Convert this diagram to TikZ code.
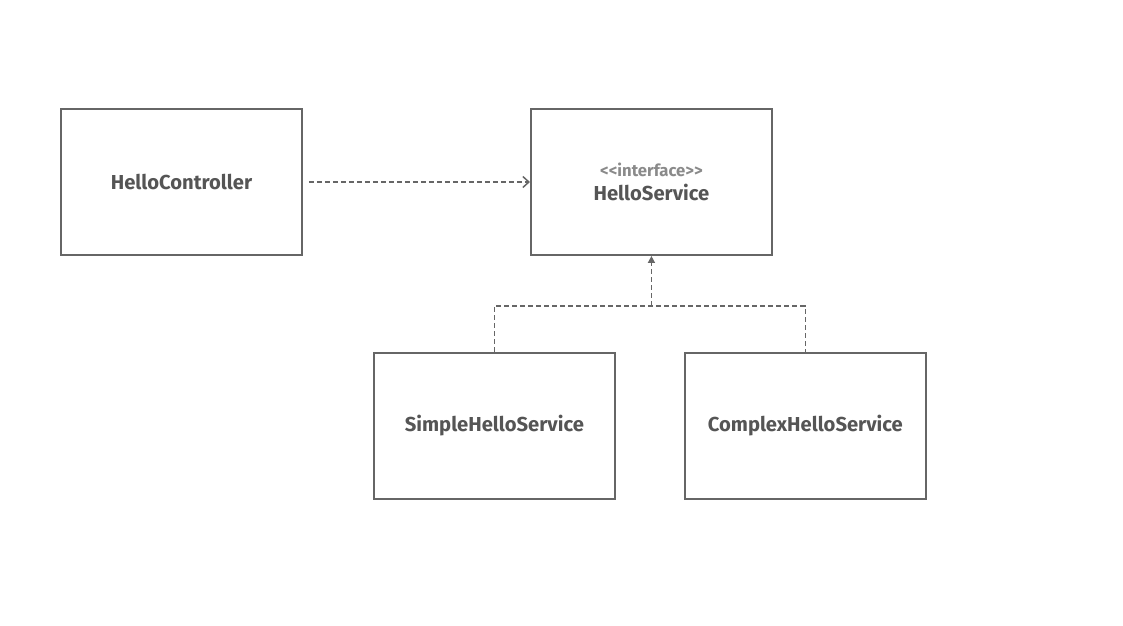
\documentclass[tikz,border=0pt]{standalone}
\usepackage{fontspec}
\setmainfont{Fira Sans}
\usetikzlibrary{arrows.meta, positioning, calc}
\definecolor{linegray}{HTML}{666666}
\definecolor{textgray}{HTML}{555555}
\definecolor{stereogray}{HTML}{8A8A8A}

\begin{document}
\begin{tikzpicture}[
        node distance=1.92cm and 4.54cm,
        box/.style={rectangle, draw=linegray, line width=1.1pt, align=center, minimum width=4.82cm, minimum height=2.92cm, text=textgray, font=\fontsize{11.5}{14}\selectfont\bfseries},
        dep/.style={draw=linegray, line width=0.85pt, dash pattern=on 0.1cm off 0.06cm}
    ]
    % Controller and interface
    \node[box] (ctrl) {HelloController};
    \node[box, right=of ctrl] (service) {{\fontsize{9.5}{11}\selectfont\color{stereogray}\textless\kern0pt\textless interface\textgreater\kern0pt\textgreater}\\HelloService};

    % Implementations
    \node[box, below=of service, xshift=-3.14cm] (simple) {SimpleHelloService};
    \node[box, right=1.36cm of simple] (complex) {ComplexHelloService};

    \useasboundingbox ($(ctrl.center)+(-3.63,3.64)$) rectangle ++(22.46,-12.5);

    % Connections
    \draw[dep, -{Straight Barb[length=0.12cm, width=0.22cm]}, shorten <=0.12cm] (ctrl.east) -- (service.west);
    \coordinate (join) at ($(service.south)+(0,-1.0)$);
    \draw[dep] (simple.north) |- (join) -| (complex.north);
    \draw[dep, -{Triangle[length=0.14cm, width=0.14cm]}] (join) -- (service.south);
\end{tikzpicture}
\end{document}
